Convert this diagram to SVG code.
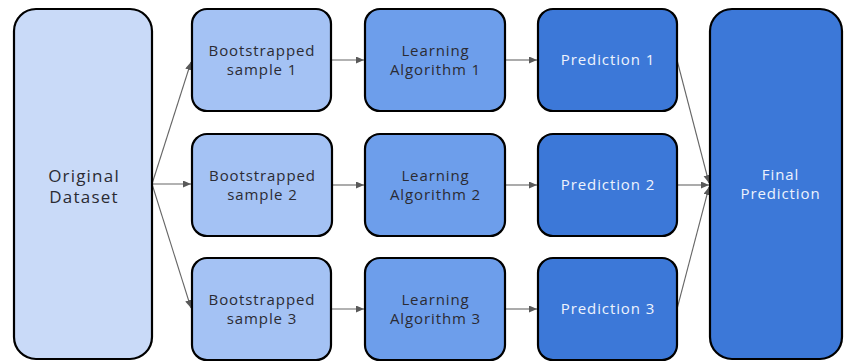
<svg xmlns="http://www.w3.org/2000/svg" width="844" height="362" viewBox="0 0 844 362">
  <style>
    .box { stroke: #000000; stroke-width: 2.2; }
    .l0 { fill: #c9daf8; }
    .l1 { fill: #a4c2f4; }
    .l2 { fill: #6d9eeb; }
    .l3 { fill: #3c78d8; }
    text { font-family: "Open Sans", "Noto Sans", sans-serif; text-anchor: middle; letter-spacing: 0.9px; }
    .dark { fill: #2b2b33; font-size: 15px; }
    .light { fill: #eef3fd; font-size: 15px; }
    .big { font-size: 17px; letter-spacing: 1.2px; }
    .conn { stroke: #666666; stroke-width: 1.1; fill: none; marker-end: url(#arrow); }
  </style>
  <defs>
    <marker id="arrow" markerUnits="userSpaceOnUse" markerWidth="9" markerHeight="8" refX="8" refY="3.5" orient="auto">
      <path d="M0,0 L8,3.5 L0,7 z" fill="#595959"/>
    </marker>
  </defs>
  <rect width="844" height="362" fill="#ffffff"/>

  <g id="connectors">
    <line class="conn" x1="152" y1="184" x2="191" y2="62"/>
    <line class="conn" x1="152" y1="184" x2="191" y2="184"/>
    <line class="conn" x1="152" y1="184" x2="191" y2="308"/>
    <line class="conn" x1="331" y1="60" x2="364" y2="60"/>
    <line class="conn" x1="332" y1="185" x2="364" y2="185"/>
    <line class="conn" x1="331" y1="309" x2="364" y2="309"/>
    <line class="conn" x1="505" y1="60" x2="537" y2="60"/>
    <line class="conn" x1="505" y1="185" x2="537" y2="185"/>
    <line class="conn" x1="505" y1="309" x2="537" y2="309"/>
    <line class="conn" x1="677" y1="60" x2="709" y2="183"/>
    <line class="conn" x1="677" y1="185" x2="709" y2="185"/>
    <line class="conn" x1="677" y1="309" x2="709" y2="187"/>
  </g>

  <g id="original-dataset">
    <rect class="box l0" x="14" y="9" width="138" height="350" rx="22"/>
    <text class="dark big" x="84" y="182">Original</text>
    <text class="dark big" x="84" y="203">Dataset</text>
  </g>

  <g id="bootstrap-1">
    <rect class="box l1" x="192" y="9" width="139" height="102" rx="15"/>
    <text class="dark" x="262" y="56">Bootstrapped</text>
    <text class="dark" x="262" y="75">sample 1</text>
  </g>
  <g id="bootstrap-2">
    <rect class="box l1" x="192" y="134" width="140" height="102" rx="15"/>
    <text class="dark" x="262.5" y="181">Bootstrapped</text>
    <text class="dark" x="262.5" y="200">sample 2</text>
  </g>
  <g id="bootstrap-3">
    <rect class="box l1" x="192" y="258" width="139" height="102" rx="15"/>
    <text class="dark" x="262" y="305">Bootstrapped</text>
    <text class="dark" x="262" y="324">sample 3</text>
  </g>

  <g id="learning-1">
    <rect class="box l2" x="365" y="9" width="140" height="102" rx="15"/>
    <text class="dark" x="435.5" y="56">Learning</text>
    <text class="dark" x="435.5" y="75">Algorithm 1</text>
  </g>
  <g id="learning-2">
    <rect class="box l2" x="365" y="134" width="140" height="102" rx="15"/>
    <text class="dark" x="435.5" y="181">Learning</text>
    <text class="dark" x="435.5" y="200">Algorithm 2</text>
  </g>
  <g id="learning-3">
    <rect class="box l2" x="365" y="258" width="140" height="102" rx="15"/>
    <text class="dark" x="435.5" y="305">Learning</text>
    <text class="dark" x="435.5" y="324">Algorithm 3</text>
  </g>

  <g id="prediction-1">
    <rect class="box l3" x="538" y="9" width="139" height="102" rx="15"/>
    <text class="light" x="608" y="65">Prediction 1</text>
  </g>
  <g id="prediction-2">
    <rect class="box l3" x="538" y="134" width="139" height="102" rx="15"/>
    <text class="light" x="608" y="190">Prediction 2</text>
  </g>
  <g id="prediction-3">
    <rect class="box l3" x="538" y="258" width="139" height="102" rx="15"/>
    <text class="light" x="608" y="314">Prediction 3</text>
  </g>

  <g id="final-prediction">
    <rect class="box l3" x="710" y="9" width="132" height="350" rx="22"/>
    <text class="light" x="780.5" y="180">Final</text>
    <text class="light" x="780.5" y="199">Prediction</text>
  </g>
</svg>
